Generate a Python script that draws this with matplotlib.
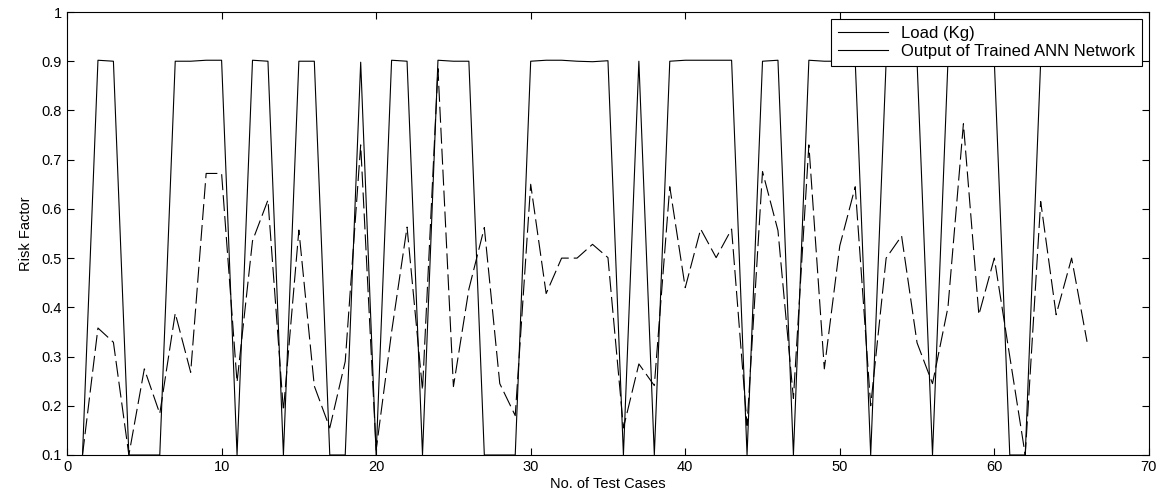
import matplotlib
matplotlib.use("Agg")
import matplotlib.pyplot as plt
from matplotlib.lines import Line2D
import numpy as np

plt.rcParams['font.family'] = ['Liberation Sans', 'DejaVu Sans']
plt.rcParams['lines.scale_dashes'] = False

# test case index
cases = np.arange(1, 67)

# Load (Kg), normalised risk level
load = [0.1, 0.902, 0.9, 0.1, 0.1, 0.1, 0.9, 0.9, 0.902, 0.902,
        0.1, 0.902, 0.9, 0.1, 0.9, 0.9, 0.1, 0.1, 0.898, 0.1,
        0.902, 0.9, 0.1, 0.902, 0.9, 0.9, 0.1, 0.1, 0.1, 0.9,
        0.902, 0.902, 0.9, 0.899, 0.901, 0.1, 0.9, 0.1, 0.9, 0.902,
        0.902, 0.902, 0.902, 0.1, 0.9, 0.902, 0.1, 0.902, 0.9, 0.9,
        0.9, 0.1, 0.9, 0.9, 0.9, 0.1, 0.9, 0.9, 0.9, 0.9,
        0.1, 0.1, 0.9, 0.9, 0.9, 0.9]

# output of the trained network
ann_out = [0.1, 0.358, 0.329, 0.1, 0.275, 0.184, 0.388, 0.268, 0.672, 0.672,
           0.248, 0.535, 0.618, 0.19, 0.557, 0.24, 0.155, 0.29, 0.73, 0.11,
           0.35, 0.563, 0.232, 0.885, 0.239, 0.437, 0.562, 0.245, 0.18, 0.65,
           0.428, 0.5, 0.5, 0.528, 0.501, 0.155, 0.285, 0.241, 0.645, 0.44,
           0.559, 0.501, 0.559, 0.16, 0.676, 0.556, 0.215, 0.73, 0.275, 0.525,
           0.645, 0.2, 0.5, 0.545, 0.328, 0.245, 0.4, 0.773, 0.385, 0.5,
           0.3, 0.1, 0.615, 0.385, 0.5, 0.33]

fig = plt.figure(figsize=(11.62, 5.0), dpi=100)
ax = fig.add_axes([0.0577, 0.09, 0.931, 0.886])

ax.plot(cases, load, color='black', lw=0.8)
ax.plot(cases, ann_out, color='black', lw=0.8, dashes=(11.5, 3.6))

ax.set_xlim(0, 70)
ax.set_ylim(0.1, 1)
ax.set_xticks(np.arange(0, 71, 10))
ax.set_yticks(np.arange(0.1, 1.01, 0.1))
ax.set_yticklabels(['0.1', '0.2', '0.3', '0.4', '0.5', '0.6', '0.7', '0.8', '0.9', '1'])
ax.tick_params(direction='in', top=True, right=True, length=5, width=0.8,
               labelsize=10.5)
for s in ax.spines.values():
    s.set_linewidth(0.8)

ax.set_xlabel('No. of Test Cases', fontsize=10.5, labelpad=2)
ax.set_ylabel('Risk Factor', fontsize=10.5, labelpad=6)

# both legend entries drawn as plain solid lines, as in the original figure
handles = [Line2D([], [], color='black', lw=0.8),
           Line2D([], [], color='black', lw=0.8)]
leg = ax.legend(handles, ['Load (Kg)', 'Output of Trained ANN Network'],
                loc='upper right', fontsize=12, frameon=True, fancybox=False,
                edgecolor='black', framealpha=1, borderpad=0.42,
                labelspacing=0.2, handlelength=3.0, handletextpad=0.8,
                borderaxespad=0.4)
leg.get_frame().set_linewidth(0.8)

fig.savefig('out.png', dpi=100)
